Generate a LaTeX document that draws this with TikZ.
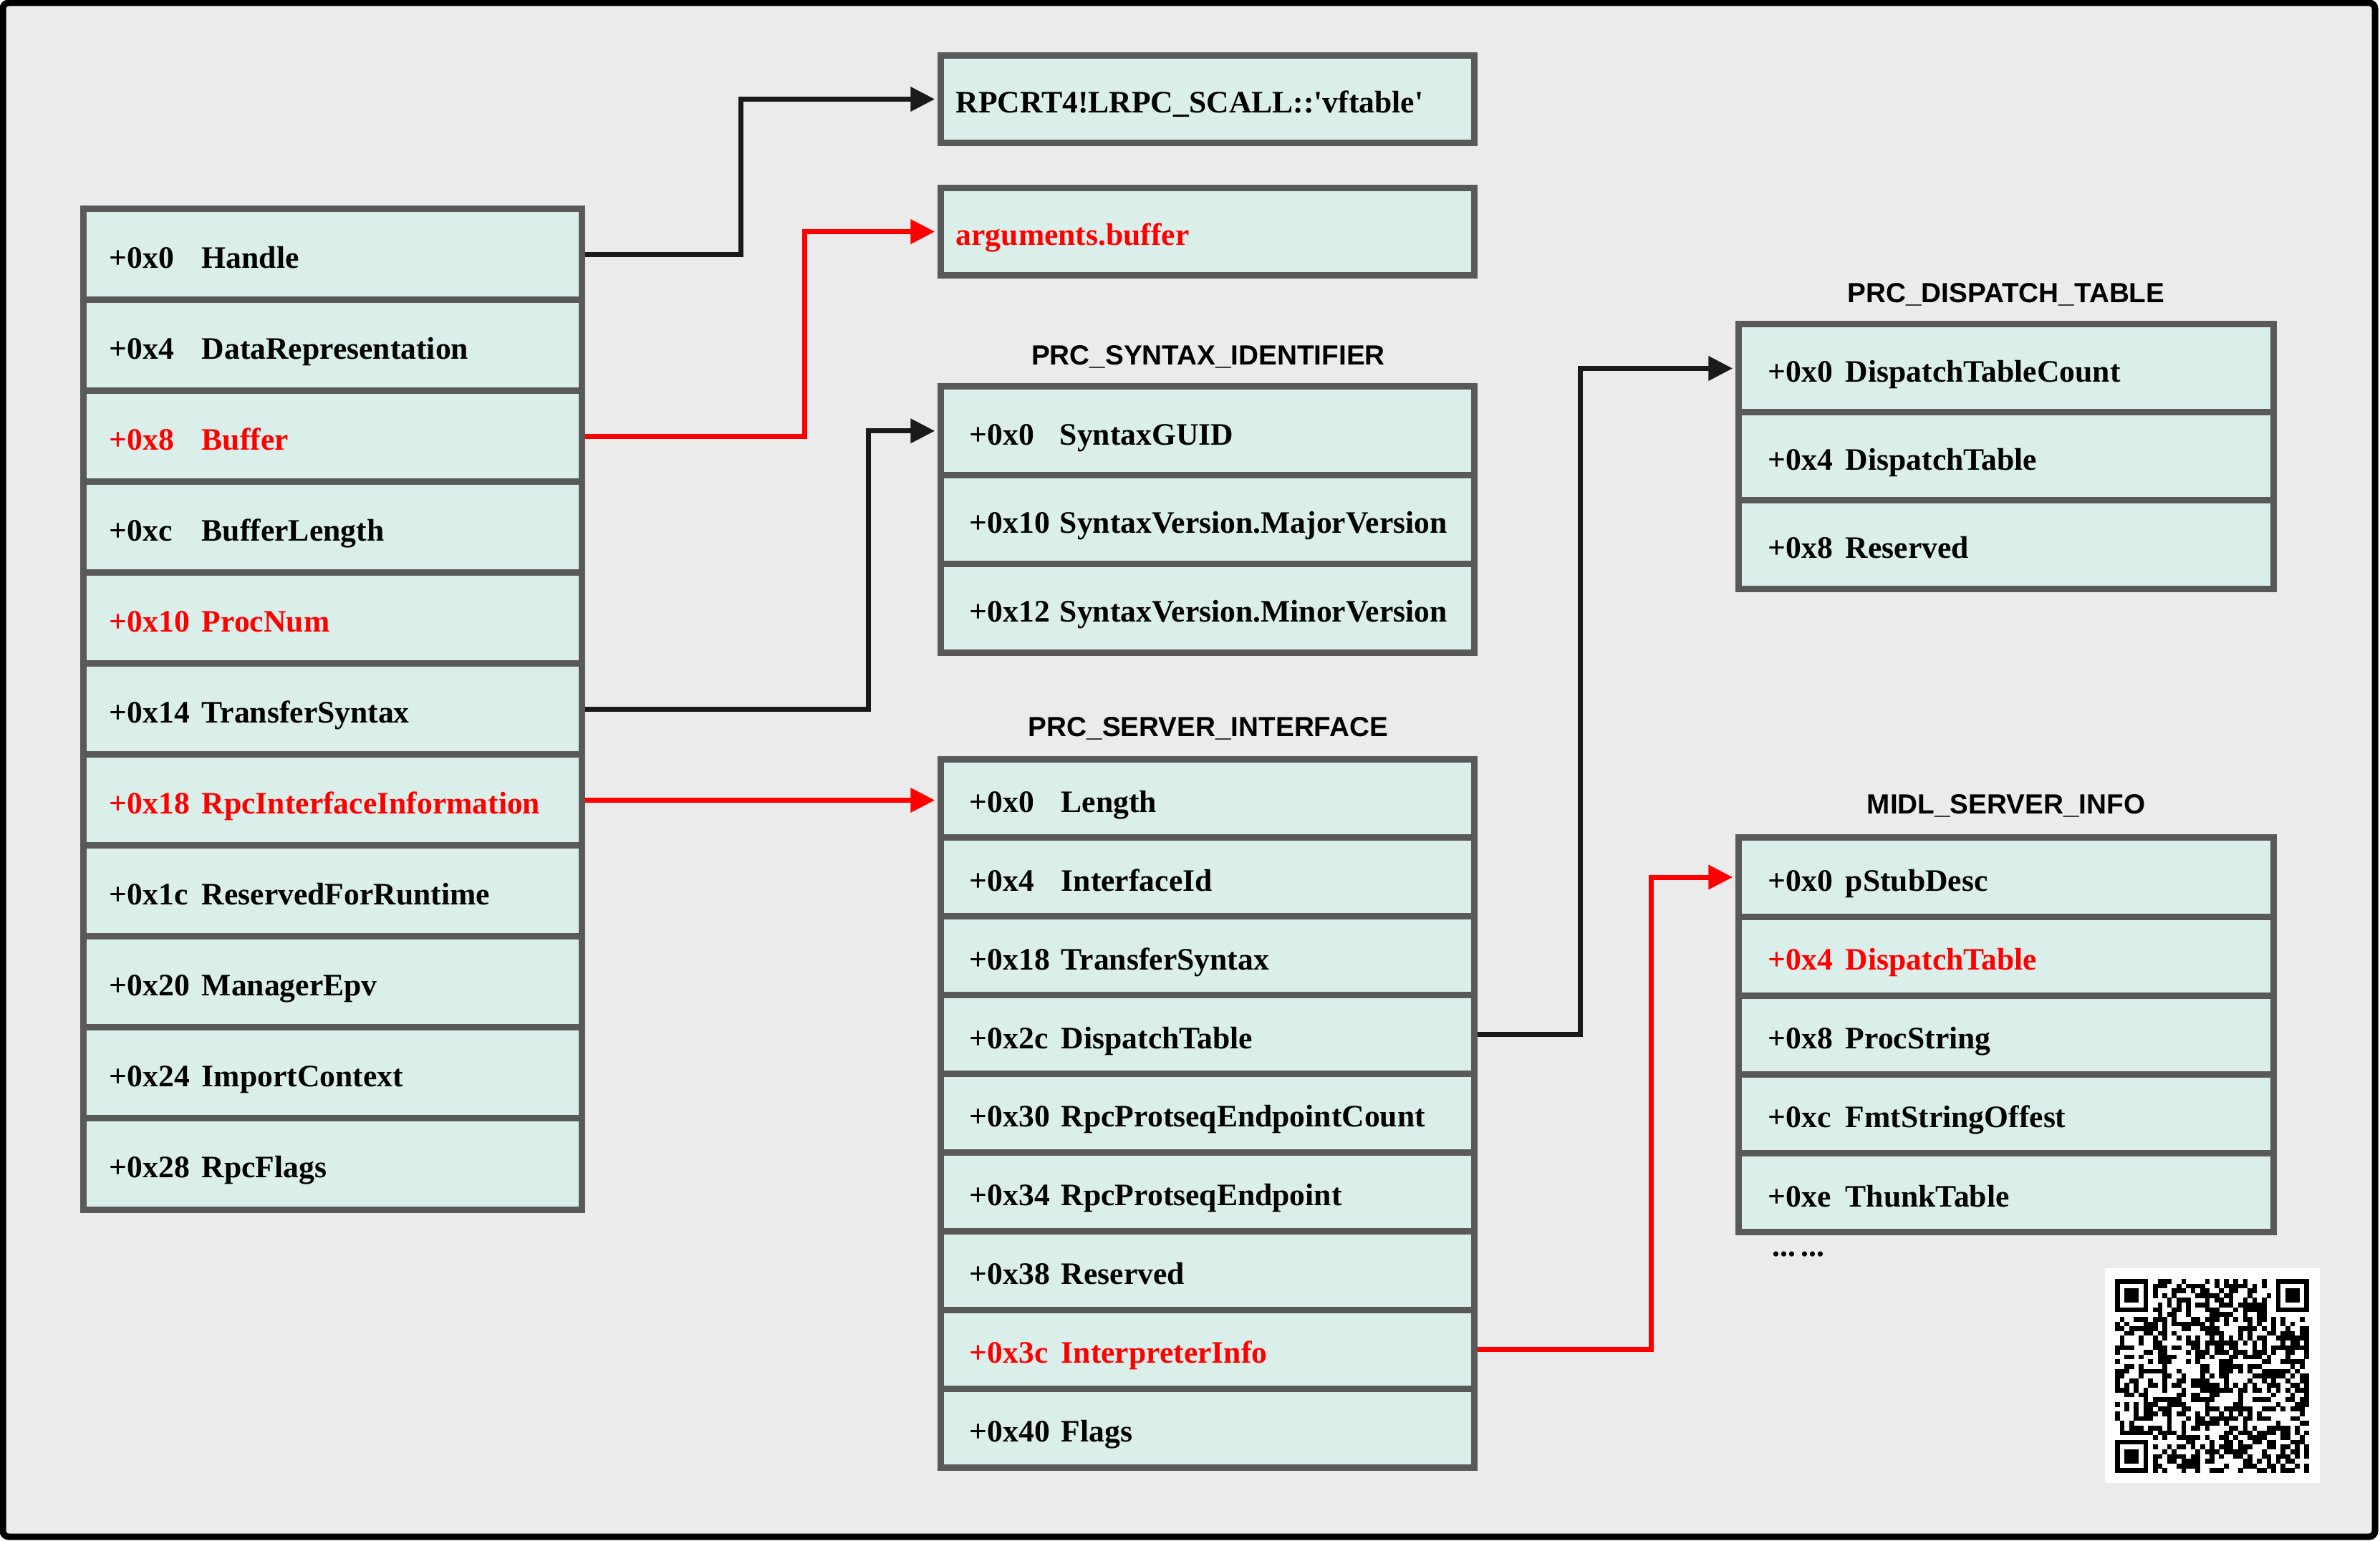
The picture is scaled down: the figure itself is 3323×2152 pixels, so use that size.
\documentclass[tikz,border=0pt]{standalone}
\usepackage{fontspec}
\setmainfont{Liberation Serif}
\newfontfamily\titlefont{Liberation Sans}
\usepackage{xcolor}
\usetikzlibrary{arrows.meta}

\definecolor{cellfill}{RGB}{219,239,234}
\definecolor{cellline}{RGB}{89,89,89}
\definecolor{bggray}{RGB}{235,235,235}
\definecolor{wire}{RGB}{26,26,26}

\tikzset{
  cell/.style={draw=cellline, fill=cellfill, line width=0.09cm, inner ysep=0pt,
    align=left, text height=11pt, text depth=0pt,
    font=\fontsize{12.4}{14}\selectfont\bfseries},
  msgcell/.style={cell, minimum height=1.27cm, inner xsep=0.36cm, text width=6.23cm},
  syncell/.style={cell, minimum height=1.2367cm, inner xsep=0.40cm, text width=6.64cm},
  srvcell/.style={cell, minimum height=1.099cm, inner xsep=0.40cm, text width=6.64cm},
  dispcell/.style={cell, minimum height=1.23cm, inner xsep=0.41cm, text width=6.64cm},
  midlcell/.style={cell, minimum height=1.102cm, inner xsep=0.41cm, text width=6.64cm},
  ptrbox/.style={cell, minimum height=1.21cm, inner xsep=0.21cm, text width=7.02cm},
  structname/.style={font=\titlefont\bfseries\fontsize{11}{13}\selectfont},
  ptr/.style={wire, line width=0.07cm, -{Triangle[length=0.34cm,width=0.33cm]}, shorten >=0.04cm},
}

\begin{document}
\begin{tikzpicture}[x=0.01cm,y=-0.01cm]
  \useasboundingbox (0,0) rectangle (3323,2152);
  \fill[white] (0,0) rectangle (3323,2152);
  \draw[line width=0.09cm, rounded corners=0.08cm, fill=bggray] (4,4) rectangle (3316,2146);

  % RPC_MESSAGE
  \foreach \off/\fld/\clr [count=\i] in {+0x0/Handle/black, +0x4/DataRepresentation/black,
      +0x8/Buffer/red, +0xc/BufferLength/black, +0x10/ProcNum/red,
      +0x14/TransferSyntax/black, +0x18/RpcInterfaceInformation/red,
      +0x1c/ReservedForRuntime/black, +0x20/ManagerEpv/black,
      +0x24/ImportContext/black, +0x28/RpcFlags/black}
    \node[msgcell, text=\clr] (msg\i) at ({464.5},{355.5+127*(\i-1)})
      {\makebox[1.29cm][l]{\off}\fld};

  % pointer targets
  \node[ptrbox] (vft) at (1686,138.5) {RPCRT4!LRPC\_SCALL::\textquotesingle vftable\textquotesingle};
  \node[ptrbox, text=red] (argbuf) at (1686,323.5) {arguments.buffer};

  % PRC_SYNTAX_IDENTIFIER
  \node[structname] (synname) at (1687,498) {PRC\_SYNTAX\_IDENTIFIER};
  \foreach \off/\fld [count=\i] in {+0x0/SyntaxGUID, +0x10/SyntaxVersion.MajorVersion,
      +0x12/SyntaxVersion.MinorVersion}
    \node[syncell] (syn\i) at ({1686},{601.8+123.67*(\i-1)})
      {\makebox[1.26cm][l]{\off}\fld};

  % PRC_SERVER_INTERFACE
  \node[structname] (srvname) at (1687,1017) {PRC\_SERVER\_INTERFACE};
  \foreach \off/\fld/\clr [count=\i] in {+0x0/Length/black, +0x4/InterfaceId/black,
      +0x18/TransferSyntax/black, +0x2c/DispatchTable/black,
      +0x30/RpcProtseqEndpointCount/black, +0x34/RpcProtseqEndpoint/black,
      +0x38/Reserved/black, +0x3c/InterpreterInfo/red, +0x40/Flags/black}
    \node[srvcell, text=\clr] (srv\i) at ({1686},{1115+109.9*(\i-1)})
      {\makebox[1.28cm][l]{\off}\fld};

  % PRC_DISPATCH_TABLE
  \node[structname] (dispname) at (2801,411) {PRC\_DISPATCH\_TABLE};
  \foreach \off/\fld [count=\i] in {+0x0/DispatchTableCount, +0x4/DispatchTable,
      +0x8/Reserved}
    \node[dispcell] (disp\i) at ({2801},{514.5+123*(\i-1)})
      {\makebox[1.08cm][l]{\off}\fld};

  % MIDL_SERVER_INFO
  \node[structname] (midlname) at (2801,1125) {MIDL\_SERVER\_INFO};
  \foreach \off/\fld/\clr [count=\i] in {+0x0/pStubDesc/black, +0x4/DispatchTable/red,
      +0x8/ProcString/black, +0xc/FmtStringOffest/black, +0xe/ThunkTable/black}
    \node[midlcell, text=\clr] (midl\i) at ({2801},{1225+110.2*(\i-1)})
      {\makebox[1.08cm][l]{\off}\fld};
  \node[anchor=west, font=\fontsize{12.4}{14}\selectfont\bfseries] (more) at (2462,1752) {...\,...};

  % pointers
  \draw[ptr] (msg1.east) -- ++(218,0) |- (vft.west);
  \draw[ptr, red] (msg3.east) -- ++(307,0) |- (argbuf.west);
  \draw[ptr] (msg6.east) -- ++(396,0) |- (syn1.west);
  \draw[ptr, red] (msg7.east) -- (msg7.east -| srv1.west);
  \draw[ptr] (srv4.east) -- ++(144,0) |- (disp1.west);
  \draw[ptr, red] (srv8.east) -- ++(243,0) |- (midl1.west);

  % QR code
  \fill[white] (2939,1771) rectangle (3239,2071);
  \pgfmathsetseed{516}
  \foreach \i in {0,...,40}{
    \foreach \j in {0,...,40}{
      \pgfmathtruncatemacro\bit{((\i<8 && \j<8) || (\i>32 && \j<8) || (\i<8 && \j>32)) ? 0 : random(0,1)}
      \ifnum\bit=1
        \fill ({2953+6.61*\i},{1786+6.61*\j}) rectangle ++(6.7,6.7);
      \fi
    }
  }
  \foreach \fx/\fy in {0/0,34/0,0/34}{
    \fill ({2953+6.61*\fx},{1786+6.61*\fy}) rectangle ++(46.27,46.27);
    \fill[white] ({2959.61+6.61*\fx},{1792.61+6.61*\fy}) rectangle ++(33.05,33.05);
    \fill ({2966.22+6.61*\fx},{1799.22+6.61*\fy}) rectangle ++(19.83,19.83);
  }
\end{tikzpicture}
\end{document}
